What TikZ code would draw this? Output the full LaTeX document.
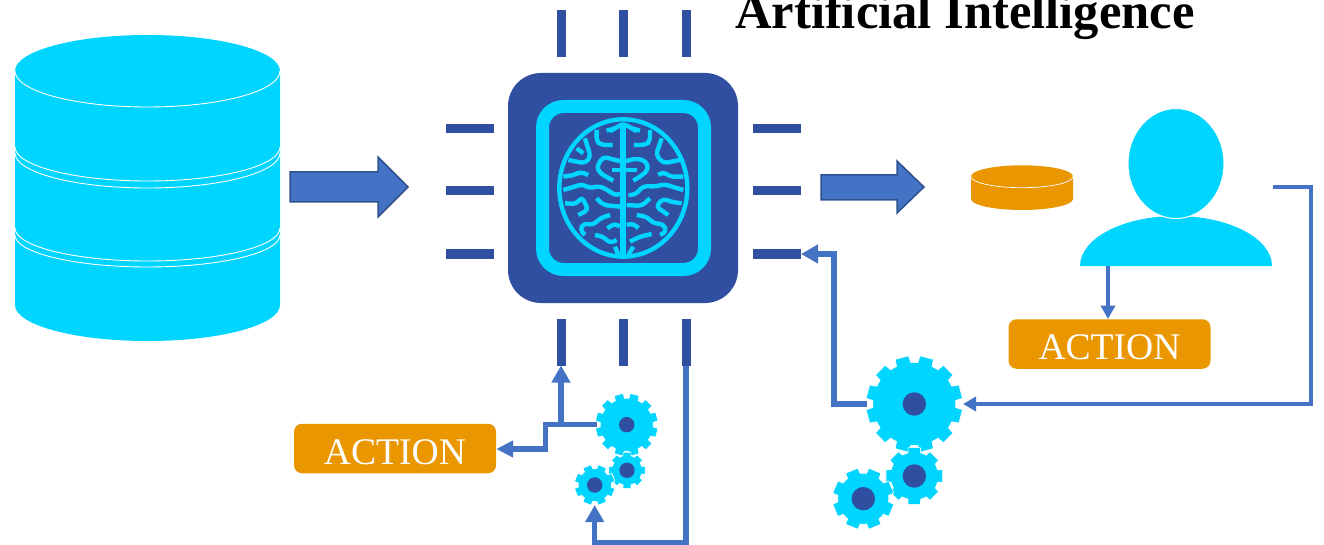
\documentclass[tikz,border=0pt]{standalone}
\usepackage{fontspec}
\setmainfont{Liberation Serif}
\usetikzlibrary{arrows.meta}
\definecolor{cyanfill}{HTML}{00D5FF}
\definecolor{chipblue}{HTML}{304FA0}
\definecolor{linkblue}{HTML}{4472C4}
\definecolor{linkdark}{HTML}{2F528F}
\definecolor{orangefill}{HTML}{EA9600}
\tikzset{
  pinbar/.style={fill=chipblue,inner sep=0pt,outer sep=0pt},
  pinv/.style={pinbar,minimum width=9pt,minimum height=47pt},
  pinh/.style={pinbar,minimum width=48pt,minimum height=9pt},
  actionbox/.style={fill=orangefill,rounded corners=8pt,inner sep=0pt,minimum width=202pt,minimum height=49.5pt,text=white,font=\fontsize{37.6}{40}\selectfont},
  link/.style={draw=linkblue,line width=5.3pt,line join=miter},
  thinlink/.style={draw=linkblue,line width=4.5pt,line join=miter},
  linkhead/.style={link,-{Triangle[width=18pt,length=17pt]}},
  blockarrow/.style={fill=linkblue,draw=linkdark,line width=1.5pt,line join=miter},
  brainline/.style={draw=cyanfill,line width=4.4pt,line join=round,rounded corners=4pt},
  hub/.style={circle,fill=chipblue,inner sep=0pt,outer sep=0pt},
  gearbody/.style={fill=cyanfill,draw=white,line width=0.6pt,line join=round},
}
% centre x, centre y, outer r, root r, teeth, offset, hub r, name
\newcommand{\cogwheel}[8]{%
  \pgfmathsetmacro{\cogstep}{360/#5}%
  \fill[gearbody,shift={(#1,#2)}] (#6-0.5*\cogstep:#4)
    \foreach \k in {1,...,#5}{
      \pgfextra{\pgfmathsetmacro{\cogm}{#6+(\k-1)*\cogstep}}
      -- ({\cogm-0.5*\cogstep}:#4) -- ({\cogm-0.34*\cogstep}:#4) -- ({\cogm-0.27*\cogstep}:#3)
      -- ({\cogm+0.27*\cogstep}:#3) -- ({\cogm+0.34*\cogstep}:#4) -- ({\cogm+0.5*\cogstep}:#4)
    } -- cycle;
  \node[hub,minimum size=2*#7 pt] (#8) at (#1,#2) {};
}
\begin{document}
\begin{tikzpicture}[x=1pt,y=-1pt]
\path[use as bounding box] (0,0) rectangle (1324,545);
\clip (0,0) rectangle (1324,545);
% database
\fill[cyanfill] (15,71) -- (15,305) arc[start angle=180,end angle=0,x radius=132.5,y radius=36] -- (280,71) -- cycle;
\fill[cyanfill] (147.5,71) ellipse[x radius=132.5,y radius=36];
\coordinate (db) at (147.5,190);
\draw[white,line width=0.9pt] (15,71) arc[start angle=180,end angle=0,x radius=132.5,y radius=36];
\foreach \e/\b in {147/181,153/188,228/261,235/267}{
  \pgfmathsetmacro{\ry}{\b-\e}
  \draw[white,line width=0.9pt] (15,\e) arc[start angle=180,end angle=0,x radius=132.5,y radius=\ry];
}
% block arrows
\path[blockarrow] (290,172) -- (378,172) -- (378,157) -- (408,187) -- (378,217) -- (378,202) -- (290,202) -- cycle;
\path[blockarrow] (821,175) -- (897,175) -- (897,161) -- (924,187) -- (897,213) -- (897,200) -- (821,200) -- cycle;
% chip pins
\node[pinv] (pt1) at (561,34) {};
\node[pinv] (pt2) at (623,34) {};
\node[pinv] (pt3) at (686,34) {};
\node[pinv] (pb1) at (561,342) {};
\node[pinv] (pb2) at (623,342) {};
\node[pinv] (pb3) at (686,342) {};
\node[pinh] (pl1) at (470,129) {};
\node[pinh] (pl2) at (470,191) {};
\node[pinh] (pl3) at (470,254) {};
\node[pinh] (pr1) at (777,129) {};
\node[pinh] (pr2) at (777,191) {};
\node[pinh] (pr3) at (777,254) {};
% chip
\node[fill=chipblue,rounded corners=33pt,minimum width=230pt,minimum height=230pt,inner sep=0pt] (chip) at (623,188) {};
\draw[draw=cyanfill,line width=13pt,rounded corners=21pt,fill=chipblue] (542.5,106.5) rectangle (704.5,269.5);
% brain, in 3x zoom coordinates
\begin{scope}[shift={(500,60)},x=0.3333pt,y=-0.3333pt]
\draw[draw=cyanfill,line width=4.4pt] (370,384) ellipse[x radius=192,y radius=206];
\draw[draw=cyanfill,line width=6pt] (370,190) -- (370,590);
\begin{scope}[brainline]
\draw (330,214) -- (370,190) -- (410,214);
\draw (320,212) -- (345,205);
\draw (420,212) -- (395,205);
\draw (290,210) -- (290,245) -- (305,255) -- (338,255);
\draw (450,210) -- (450,245) -- (435,255) -- (402,255);
\draw (255,235) -- (272,290) -- (255,310) -- (205,300);
\draw (485,235) -- (468,285) -- (490,310) -- (540,300);
\draw (230,265) -- (250,280);
\draw (190,350) -- (225,345) -- (240,335) -- (265,345);
\draw (550,350) -- (510,350) -- (490,335) -- (475,345);
\draw (335,330) -- (410,330);
\draw (340,362) -- (300,340) -- (290,320) -- (310,290) -- (345,300) -- (370,305) -- (410,295) -- (440,305) -- (445,330) -- (420,350) -- (400,362);
\draw (190,390) -- (250,372) -- (265,385) -- (300,378) -- (330,395) -- (350,408) -- (362,400);
\draw (550,390) -- (490,372) -- (470,380) -- (430,378) -- (405,405) -- (385,405);
\draw (290,415) -- (310,435) -- (360,440);
\draw (450,415) -- (425,438) -- (380,435);
\draw (195,430) -- (230,432) -- (245,410) -- (265,450) -- (235,465);
\draw (545,430) -- (510,425) -- (490,415) -- (468,440) -- (505,465);
\draw (330,465) -- (300,475) -- (280,495) -- (250,490) -- (240,510) -- (255,525);
\draw (410,465) -- (440,470) -- (460,490) -- (490,492) -- (500,515) -- (480,525);
\draw (322,505) -- (345,490) -- (360,500);
\draw (380,495) -- (400,490) -- (415,505);
\draw (285,525) -- (310,530) -- (330,550) -- (350,540);
\draw (390,545) -- (420,530) -- (455,522);
\draw (345,560) -- (355,585);
\draw (400,560) -- (385,585);
\end{scope}
\end{scope}
% title
\node[anchor=base west,inner sep=0pt,font=\bfseries\fontsize{50.6}{52}\selectfont] (title) at (735,28.5) {Artificial Intelligence};
% small disk
\fill[orangefill] (971,176.5) -- (971,199) arc[start angle=180,end angle=0,x radius=51,y radius=11] -- (1073,176.5) -- cycle;
\fill[orangefill] (1022,176.5) ellipse[x radius=51,y radius=11.2];
\coordinate (disk) at (1022,188);
\draw[white,line width=0.7pt] (971,176.5) arc[start angle=180,end angle=0,x radius=51,y radius=11.2];
% person
\fill[cyanfill] (1080,266) arc[start angle=180,end angle=360,x radius=96,y radius=50] -- cycle;
\fill[cyanfill,draw=white,line width=1pt] (1176,163.5) ellipse[x radius=48,y radius=55];
\coordinate (personB) at (1108,266);
\coordinate (personR) at (1273,187);
% action boxes
\node[actionbox] (act1) at (1109.5,344) {\raisebox{-3pt}[24.8pt][0pt]{ACTION}};
\node[actionbox] (act2) at (395,448.5) {\raisebox{-3.3pt}[24.8pt][0pt]{ACTION}};
% gears
\cogwheel{914.3}{404}{48.5}{41.5}{12}{15}{11.7}{gearR}
\cogwheel{914.3}{476}{29}{24}{8}{0}{11.7}{gearS}
\cogwheel{863.3}{498.7}{31}{25.5}{8}{22.5}{11.7}{gearT}
\cogwheel{626.7}{424.7}{31.5}{26.5}{12}{15}{7.7}{gearL}
\cogwheel{627}{470.3}{18.5}{15}{8}{0}{7.7}{gearM}
\cogwheel{594.7}{485}{20.5}{16.5}{8}{22.5}{7.7}{gearN}
% connectors
\coordinate (gearRw) at (866.5,404);
\coordinate (gearRe) at (963,404);
\coordinate (gearLw) at (596.5,424.5);
\coordinate (gearNs) at (594.7,505);
\coordinate (c1) at (834,404);
\coordinate (c2) at (1311,187);
\coordinate (c3) at (1311,404);
\coordinate (c4) at (561,424.5);
\coordinate (c5) at (545.5,424.5);
\coordinate (c6) at (545.5,449);
\coordinate (c7) at (686,543);
\coordinate (c8) at (594.7,543);
\draw[linkhead] (gearRw) -- (c1) |- (pr3.east);
\draw[thinlink,-{Triangle[width=14pt,length=13.5pt]}] (personB) -- (act1.north -| personB);
\draw[thinlink,-{Triangle[width=14pt,length=13pt]}] (personR) -- (c2) -- (c3) -- (gearRe);
\draw[linkhead] (gearLw) -- (c4) -- (pb1.south);
\draw[link,-{Triangle[width=16pt,length=17pt]}] (c4) -- (c5) -- (c6) -- (act2.east |- c6);
\draw[linkhead] (pb3.south) -- (c7) -- (c8) -- (gearNs);
\end{tikzpicture}
\end{document}
